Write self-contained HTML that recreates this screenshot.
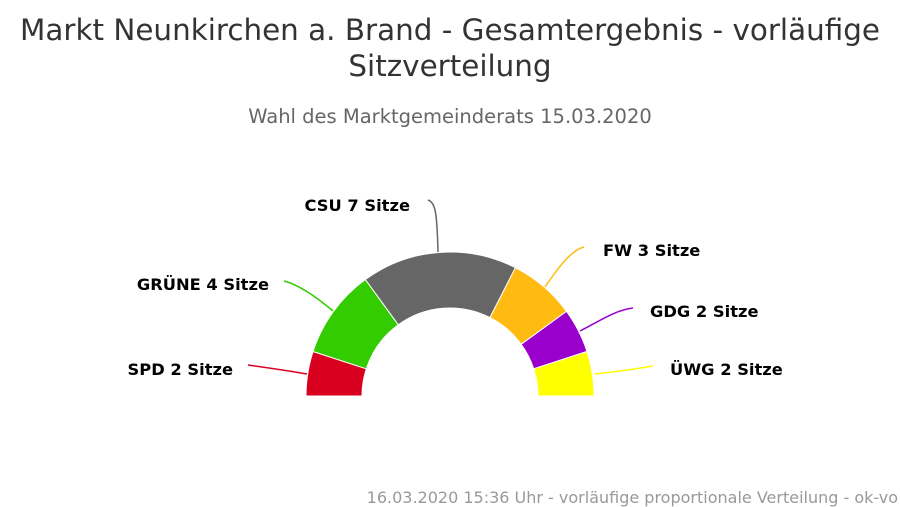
<!DOCTYPE html>
<html><head><meta charset="utf-8"><style>
html,body{margin:0;padding:0;background:#fff;width:900px;height:507px;overflow:hidden}
svg text{font-family:"DejaVu Sans","Liberation Sans",sans-serif}
</style></head><body>
<svg width="900" height="507" viewBox="0 0 900 507" xmlns="http://www.w3.org/2000/svg">
<rect width="900" height="507" fill="#fff"/>
<text x="450" y="40" text-anchor="middle" font-size="29.4" fill="#333">Markt Neunkirchen a. Brand - Gesamtergebnis - vorläufige</text>
<text x="450" y="76" text-anchor="middle" font-size="29.4" fill="#333">Sitzverteilung</text>
<text x="450" y="123" text-anchor="middle" font-size="19.5" fill="#666">Wahl des Marktgemeinderats 15.03.2020</text>
<g stroke="#fff" stroke-width="1" stroke-linejoin="round">
<path d="M306,396 A144,144 0 0 1 313.04,351.5 L366.3,368.8 A88,88 0 0 0 362,396 Z" fill="#d9001f"/>
<path d="M313.04,351.5 A144,144 0 0 1 365.36,279.5 L398.3,324.8 A88,88 0 0 0 366.3,368.8 Z" fill="#33cc00"/>
<path d="M365.36,279.5 A144,144 0 0 1 515.38,267.7 L489.95,317.6 A88,88 0 0 0 398.3,324.8 Z" fill="#666666"/>
<path d="M515.38,267.7 A144,144 0 0 1 566.5,311.36 L521.2,344.3 A88,88 0 0 0 489.95,317.6 Z" fill="#ffbb11"/>
<path d="M566.5,311.36 A144,144 0 0 1 586.96,351.5 L533.7,368.8 A88,88 0 0 0 521.2,344.3 Z" fill="#9900cc"/>
<path d="M586.96,351.5 A144,144 0 0 1 594,396 L538,396 A88,88 0 0 0 533.7,368.8 Z" fill="#ffff00"/>
</g>
<g fill="none" stroke-width="1.5">
<path d="M248,365 C270,368 290,371 307,374" stroke="#d9001f"/>
<path d="M284,281 C300,285 320,300 333,311" stroke="#33cc00"/>
<path d="M428,200 C436,203 437,215 438,252" stroke="#666666"/>
<path d="M584,247 C572,250 560,265 545,287" stroke="#ffbb11"/>
<path d="M633,308 C615,310 598,322 580,331" stroke="#9900cc"/>
<path d="M653,366 C635,369 615,372 594,374" stroke="#ffff00"/>
</g>
<g font-size="16.3" font-weight="bold" fill="#000">
<text x="233" y="375" text-anchor="end">SPD 2 Sitze</text>
<text x="269" y="290" text-anchor="end">GRÜNE 4 Sitze</text>
<text x="410" y="211" text-anchor="end">CSU 7 Sitze</text>
<text x="603" y="256">FW 3 Sitze</text>
<text x="650" y="317">GDG 2 Sitze</text>
<text x="670" y="375">ÜWG 2 Sitze</text>
</g>
<text x="898" y="503" text-anchor="end" font-size="16" fill="#999">16.03.2020 15:36 Uhr - vorläufige proportionale Verteilung - ok-vo</text>
</svg>
</body></html>
